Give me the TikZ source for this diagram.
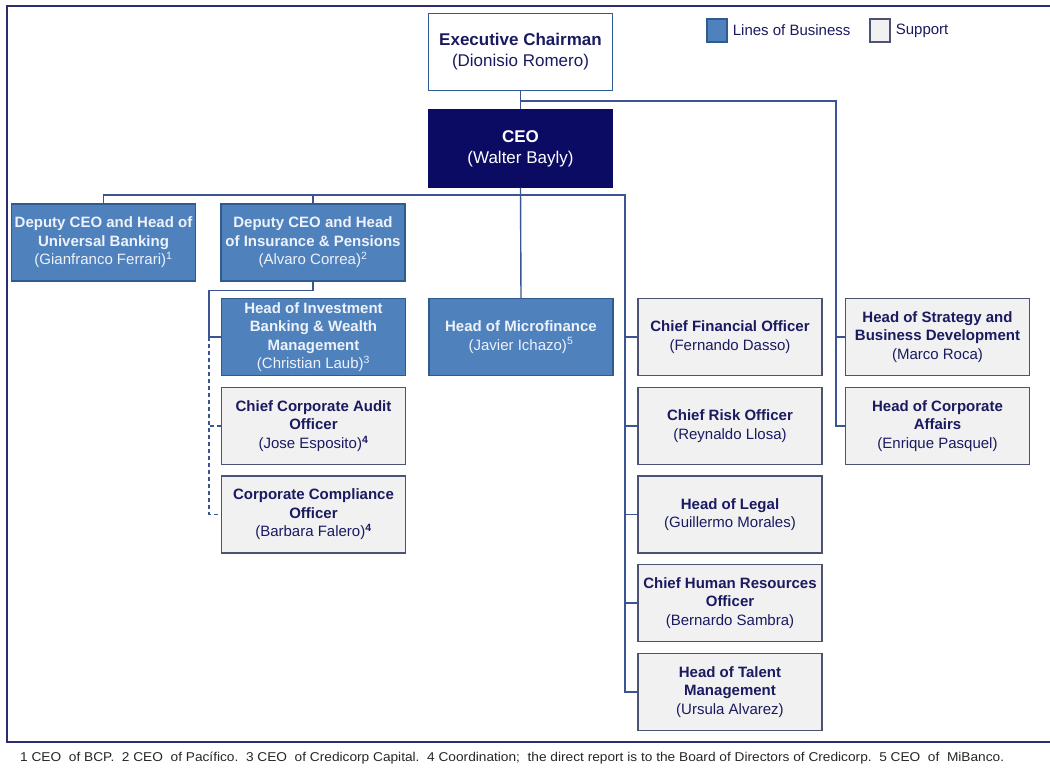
\documentclass[tikz,border=0pt]{standalone}
\usepackage{fontspec}
\setmainfont{Liberation Sans}
\newfontfamily\notefont[FakeStretch=1.07]{Liberation Sans}
\usetikzlibrary{positioning}
\definecolor{Navy}{HTML}{0B0B63}
\definecolor{NavyText}{HTML}{1A1A60}
\definecolor{LobBlue}{HTML}{4F81BD}
\definecolor{LobEdge}{HTML}{2F5B8E}
\definecolor{SupFill}{HTML}{F1F1F2}
\definecolor{SupEdge}{HTML}{4A5472}
\definecolor{LinkBlue}{HTML}{3A5592}
\definecolor{FrameBlue}{HTML}{2A2E6E}
\definecolor{PaleText}{HTML}{EEF2FA}
\tikzset{
  orgbox/.style={minimum width=184,minimum height=77,align=center,inner sep=2pt,line width=1.3pt,font=\fontsize{15}{18.5}\selectfont\bfseries},
  chairnode/.style={orgbox,draw=LobEdge,fill=white,text=NavyText,font=\fontsize{17}{21}\selectfont\bfseries},
  ceonode/.style={orgbox,draw=Navy,fill=Navy,text=white,font=\fontsize{17}{21}\selectfont\bfseries},
  lobnode/.style={orgbox,draw=LobEdge,fill=LobBlue,text=PaleText},
  supnode/.style={orgbox,draw=SupEdge,fill=SupFill,text=NavyText},
  keybox/.style={minimum width=20,minimum height=23,inner sep=0pt,line width=1.3pt},
  keytext/.style={anchor=west,inner sep=0pt,text=NavyText,font=\fontsize{15}{18}\selectfont},
  link/.style={draw=LinkBlue,line width=1.4pt},
  dotlink/.style={draw=LinkBlue,line width=1.2pt,dash pattern=on 4pt off 3pt},
}
\begin{document}
\begin{tikzpicture}[x=1pt,y=-1pt]
\useasboundingbox (0,0) rectangle (1050,769);
\draw[draw=FrameBlue,line width=1.8pt] (7,6) rectangle (1060,742);

% legend
\node[keybox,draw=LobEdge,fill=LobBlue] (keylob) at (717,30.5) {};
\node[keytext,right=5pt of keylob] (keylobtxt) {Lines of Business};
\node[keybox,draw=SupEdge,fill=SupFill] (keysup) at (880,30.5) {};
\node[keytext,right=5pt of keysup] (keysuptxt) {Support};

% top
\node[chairnode] (exec) at (520.5,52) {Executive Chairman\\\mdseries(Dionisio Romero)};
\node[ceonode] (ceo) at (520.5,148.5) {CEO\\\mdseries(Walter Bayly)};

% lines of business
\node[lobnode] (dcub) at (103.5,242.5) {Deputy CEO and Head of\\Universal Banking\\\mdseries(Gianfranco Ferrari)\textsuperscript{1}};
\node[lobnode] (dcip) at (313,242.5) {Deputy CEO and\ Head\\of Insurance \& Pensions\\\mdseries(Alvaro Correa)\textsuperscript{2}};
\node[lobnode] (ibwm) at (313.5,337) {Head of Investment\\Banking \& Wealth\\Management\\\mdseries(Christian Laub)\textsuperscript{3}};
\node[lobnode] (micro) at (521,337) {Head of Microfinance\\\mdseries(Javier Ichazo)\textsuperscript{5}};

% coordination
\node[supnode] (audit) at (313.5,426) {Chief Corporate Audit\\Officer\\\mdseries(Jose Esposito)\textsuperscript{\bfseries 4}};
\node[supnode] (compl) at (313.5,514.5) {Corporate Compliance\\Officer\\\mdseries(Barbara Falero)\textsuperscript{\bfseries 4}};

% support
\node[supnode] (cfo) at (730,337) {Chief Financial Officer\\\mdseries(Fernando Dasso)};
\node[supnode] (cro) at (730,426) {Chief Risk Officer\\\mdseries(Reynaldo Llosa)};
\node[supnode] (legal) at (730,514.5) {Head of Legal\\\mdseries(Guillermo Morales)};
\node[supnode] (chro) at (730,603) {Chief Human Resources\\Officer\\\mdseries(Bernardo Sambra)};
\node[supnode] (talent) at (730,692) {Head of Talent\\Management\\\mdseries(Ursula Alvarez)};
\node[supnode] (strat) at (937.5,337) {Head of Strategy and\\Business Development\\\mdseries(Marco Roca)};
\node[supnode] (affairs) at (937.5,426) {Head of Corporate\\Affairs\\\mdseries(Enrique Pasquel)};

% connectors
\coordinate (exjoin) at (520.5,101);
\coordinate (busL) at (103.5,195);
\coordinate (busR) at (625,195);
\coordinate (rightspine) at (836,101);
\coordinate (ibjoin) at (209,337);
\draw[link] (exec.south) -- (ceo.north);
\draw[link] (exjoin) -- (rightspine) |- (affairs.west);
\draw[link] (strat.west) -- (strat.west -| rightspine);
\draw[link] (dcub.north) -- (busL) -- (busR) |- (talent.west);
\draw[link] (dcip.north) -- (dcip.north |- busL);
\draw[link] (ceo.south) -- (micro.north);
\foreach \n in {cfo,cro,legal,chro}
  \draw[link] (\n.west) -- (\n.west -| busR);
\draw[link] (dcip.south) -- ++(0,9) -| (ibjoin) -- (ibwm.west);
\draw[dotlink] (ibjoin) |- (compl.west);
\draw[dotlink] (audit.west) -- (audit.west -| ibjoin);

% footnote
\node[anchor=west,inner sep=0pt,text=black!85,font=\notefont\fontsize{12.8}{14}\selectfont] (notes) at (20,758)
  {1 CEO\ \ of BCP.\ \ 2 CEO\ \ of Pacífico.\ \ 3 CEO\ \ of Credicorp Capital.\ \ 4 Coordination;\ \ the direct report is to the Board of Directors of Credicorp.\ \ 5 CEO\ \ of\ \ MiBanco.};
\end{tikzpicture}
\end{document}
